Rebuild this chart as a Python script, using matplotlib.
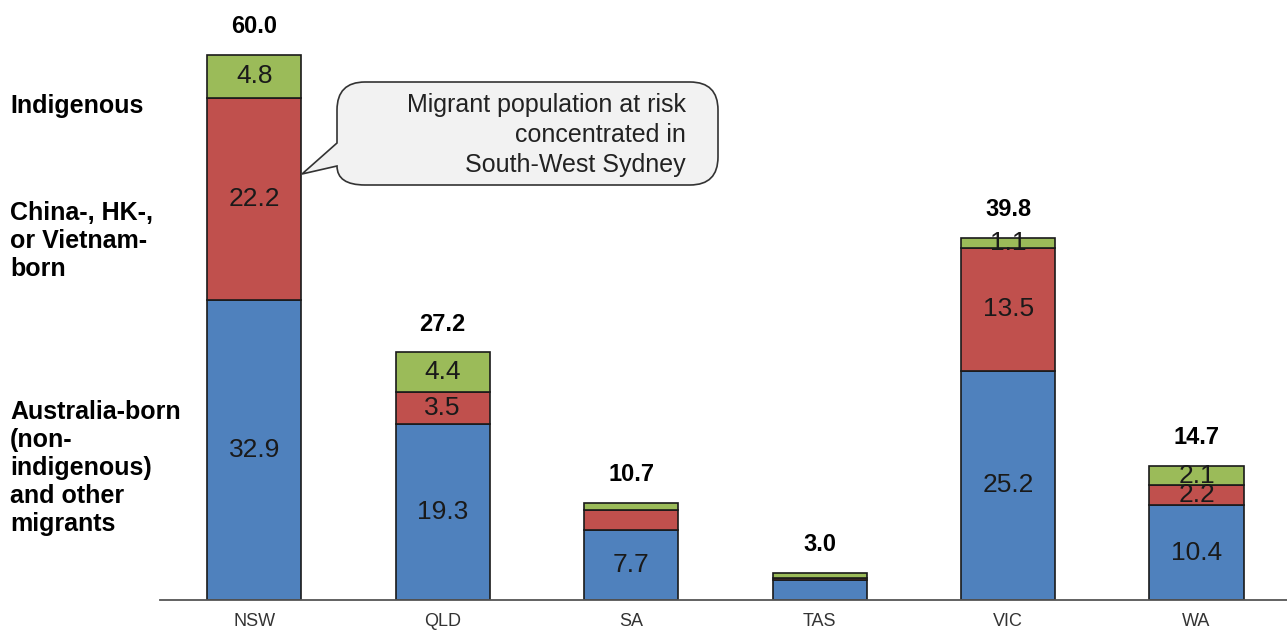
import matplotlib.pyplot as plt
from matplotlib.path import Path
from matplotlib.patches import PathPatch

# data (people, thousands at risk by state)
states = ["NSW", "QLD", "SA", "TAS", "VIC", "WA"]
australia_born = [32.9, 19.3, 7.7, 2.2, 25.2, 10.4]
asia_born = [22.2, 3.5, 2.2, 0.2, 13.5, 2.2]
indigenous = [4.8, 4.4, 0.8, 0.6, 1.1, 2.1]
totals = [60.0, 27.2, 10.7, 3.0, 39.8, 14.7]

series_names = ["Australia-born\n(non-\nindigenous)\nand other\nmigrants",
                "China-, HK-,\nor Vietnam-\nborn",
                "Indigenous"]
colors = ["#4F81BD", "#C0504D", "#9BBB59"]
# segments that are not labelled in the original
hidden = {("SA", 1), ("TAS", 0)}

plt.rcParams['font.family'] = ['Liberation Sans', 'DejaVu Sans']

W, H = 1287, 633
fig = plt.figure(figsize=(W / 100, H / 100), dpi=100)
ax = fig.add_axes([160 / W, 33 / H, 1127 / W, 600 / H])

x = list(range(len(states)))
bottom = [0.0] * len(states)
for k, vals in enumerate([australia_born, asia_born, indigenous]):
    ax.bar(x, vals, width=0.5, bottom=bottom, color=colors[k],
           edgecolor="#1a1a1a", linewidth=1.2, zorder=2)
    for i, v in enumerate(vals):
        if v >= 1.0 and (states[i], k) not in hidden:
            ax.text(i, bottom[i] + v / 2, f"{v:.1f}", ha="center", va="center",
                    fontsize=19, color="#1a1a1a", zorder=3)
    bottom = [b + v for b, v in zip(bottom, vals)]

for i, t in enumerate(totals):
    ax.annotate(f"{t:.1f}", (i, bottom[i]), xytext=(0, 12), textcoords="offset points",
                ha="center", va="bottom", fontsize=17, fontweight="bold")

ax.set_xlim(-0.5, 5.48)
ax.set_ylim(0, 65.9)
ax.set_xticks(x)
ax.set_xticklabels(states, fontsize=13, color="#333333")
ax.tick_params(axis="x", length=0, pad=9)
ax.set_yticks([])
for s in ["top", "right", "left"]:
    ax.spines[s].set_visible(False)
ax.spines["bottom"].set_color("#555555")
ax.spines["bottom"].set_linewidth(1.3)

# series labels on the left
label_y = [468, 241, 106]
for name, yy in zip(series_names, label_y):
    fig.text(10 / W, 1 - yy / H, name, ha="left", va="center", fontsize=18,
             fontweight="bold", linespacing=1.2)

# speech bubble callout (pixel coords, y down)
L, R, T, B, r = 337, 718, 82, 185, 28
pts = [(L, T + r), (L, 143), (302, 174), (L, 166), (L, B), (L + r, B),
       (R - r, B), (R, B), (R, B - r), (R, T + r), (R, T), (R - r, T),
       (L + r, T), (L, T), (L, T + r), (L, T + r)]
codes = [Path.MOVETO, Path.LINETO, Path.LINETO, Path.LINETO, Path.CURVE3, Path.CURVE3,
         Path.LINETO, Path.CURVE3, Path.CURVE3, Path.LINETO, Path.CURVE3, Path.CURVE3,
         Path.LINETO, Path.CURVE3, Path.CURVE3, Path.CLOSEPOLY]
verts = [(px / W, 1 - py / H) for px, py in pts]
bubble = PathPatch(Path(verts, codes), transform=fig.transFigure, facecolor="#f2f2f2",
                   edgecolor="#333333", linewidth=1.2, zorder=5)
fig.add_artist(bubble)
fig.text(686 / W, 1 - 135 / H, "Migrant population at risk\nconcentrated in\nSouth-West Sydney",
         ha="right", va="center", fontsize=18, linespacing=1.3, color="#222222", zorder=6)

fig.savefig("out.png", dpi=100)
